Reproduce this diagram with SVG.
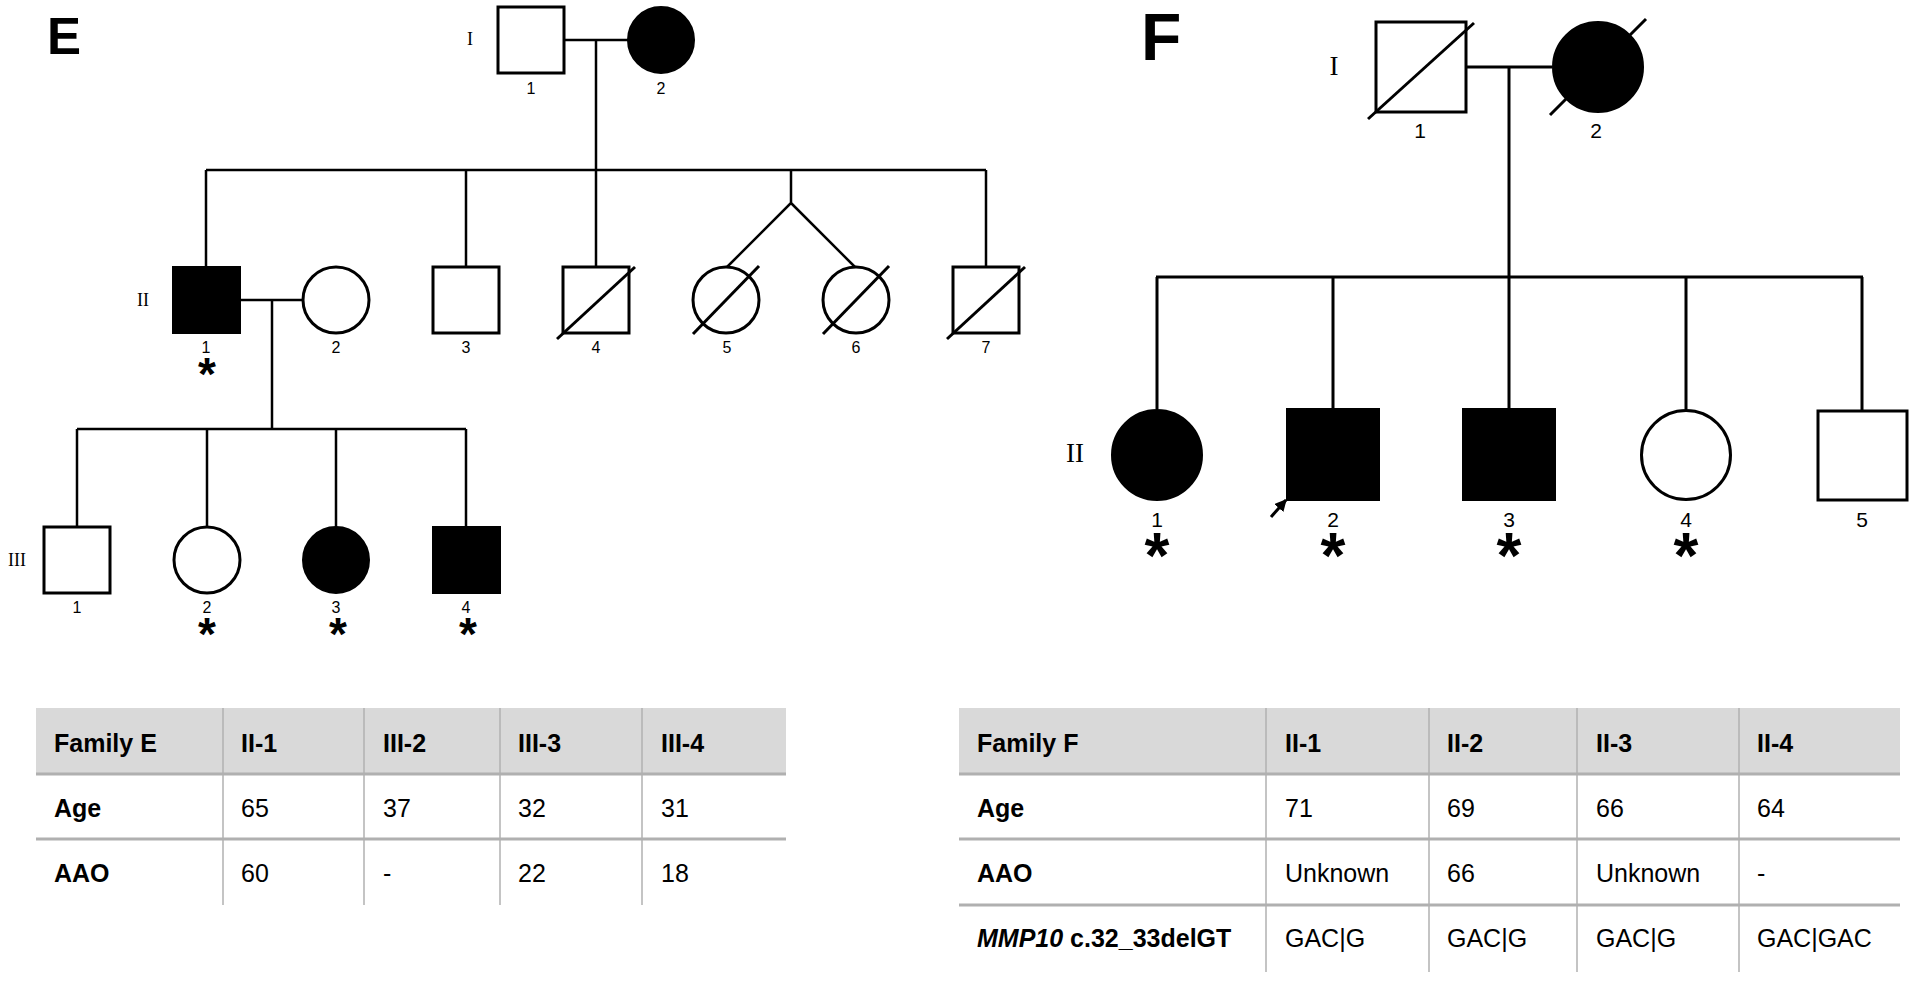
<svg xmlns="http://www.w3.org/2000/svg" width="1920" height="981" viewBox="0 0 1920 981">
<defs>
<style>
.ln{stroke:#000;stroke-width:2.5;fill:none}
.lnF{stroke:#000;stroke-width:3;fill:none}
.open{fill:#fff;stroke:#000;stroke-width:3}
.fill{fill:#000;stroke:#000;stroke-width:2}
.sl{stroke:#000;stroke-width:3;fill:none}
.num{font-family:"Liberation Sans",Arial,sans-serif;font-size:16px;text-anchor:middle}
.numF{font-family:"Liberation Sans",Arial,sans-serif;font-size:21px;text-anchor:middle}
.rom{font-family:"Liberation Serif","Times New Roman",serif;font-size:18px;text-anchor:middle}
.romF{font-family:"Liberation Serif","Times New Roman",serif;font-size:27px;text-anchor:middle}
.ast{font-family:"Liberation Sans",Arial,sans-serif;font-weight:bold;font-size:46px;text-anchor:middle}
.astF{font-family:"Liberation Sans",Arial,sans-serif;font-weight:bold;font-size:64px;text-anchor:middle}
.ttl{font-family:"Liberation Sans",Arial,sans-serif;font-weight:bold}
.th{font-family:"Liberation Sans",Arial,sans-serif;font-weight:bold;font-size:25px}
.td{font-family:"Liberation Sans",Arial,sans-serif;font-size:25px}
.hdr{fill:#d9d9d9}
.hl{stroke:#b0b0b0;stroke-width:3}
.vl{stroke:#b0b0b0;stroke-width:1.5}
</style>
<marker id="ah" viewBox="0 0 10 10" refX="9" refY="5" markerWidth="4" markerHeight="4" orient="auto">
<path d="M0,0 L10,5 L0,10 z" fill="#000"/>
</marker>
</defs>
<rect width="1920" height="981" fill="#fff"/>

<text class="ttl" x="47" y="54" font-size="51">E</text>
<text class="ttl" x="1141" y="60" font-size="66">F</text>

<!-- Family E generation labels -->
<text class="rom" x="470" y="45">I</text>
<text class="rom" x="143" y="306">II</text>
<text class="rom" x="17" y="566">III</text>

<!-- Family E connectors -->
<g id="connectors-E" class="ln">
<path d="M564,40 H628"/>
<path d="M596,40 V170"/>
<path d="M206,170 H986"/>
<path d="M206,170 V267 M466,170 V267 M596,170 V267 M986,170 V267"/>
<path d="M791,170 V203 L727,267 M791,203 L855,267"/>
<path d="M240,300 H303"/>
<path d="M272,300 V429"/>
<path d="M77,429 H466"/>
<path d="M77,429 V527 M207,429 V527 M336,429 V527 M466,429 V527"/>
</g>

<g id="E-I-1"><rect class="open" x="498" y="7" width="66" height="66"/><text class="num" x="531" y="94">1</text></g>
<g id="E-I-2"><circle class="fill" cx="661" cy="40" r="33"/><text class="num" x="661" y="94">2</text></g>

<g id="E-II-1"><rect class="fill" x="173" y="267" width="67" height="66"/><text class="num" x="206" y="353">1</text><text class="ast" x="207" y="390">*</text></g>
<g id="E-II-2"><circle class="open" cx="336" cy="300" r="33"/><text class="num" x="336" y="353">2</text></g>
<g id="E-II-3"><rect class="open" x="433" y="267" width="66" height="66"/><text class="num" x="466" y="353">3</text></g>
<g id="E-II-4"><rect class="open" x="563" y="267" width="66" height="66"/><path class="sl" d="M557,339 L635,267"/><text class="num" x="596" y="353">4</text></g>
<g id="E-II-5"><circle class="open" cx="726" cy="300" r="33"/><path class="sl" d="M693,334 L759,266"/><text class="num" x="727" y="353">5</text></g>
<g id="E-II-6"><circle class="open" cx="856" cy="300" r="33"/><path class="sl" d="M823,334 L889,266"/><text class="num" x="856" y="353">6</text></g>
<g id="E-II-7"><rect class="open" x="953" y="267" width="66" height="66"/><path class="sl" d="M947,339 L1025,267"/><text class="num" x="986" y="353">7</text></g>

<g id="E-III-1"><rect class="open" x="44" y="527" width="66" height="66"/><text class="num" x="77" y="613">1</text></g>
<g id="E-III-2"><circle class="open" cx="207" cy="560" r="33"/><text class="num" x="207" y="613">2</text><text class="ast" x="207" y="650">*</text></g>
<g id="E-III-3"><circle class="fill" cx="336" cy="560" r="33"/><text class="num" x="336" y="613">3</text><text class="ast" x="338" y="650">*</text></g>
<g id="E-III-4"><rect class="fill" x="433" y="527" width="67" height="66"/><text class="num" x="466" y="613">4</text><text class="ast" x="468" y="650">*</text></g>

<!-- Family F generation labels -->
<text class="romF" x="1334" y="75">I</text>
<text class="romF" x="1075" y="462">II</text>

<!-- Family F connectors -->
<g id="connectors-F" class="lnF">
<path d="M1466,67 H1552"/>
<path d="M1509,67 V277"/>
<path d="M1156,277 H1863"/>
<path d="M1157,277 V409 M1333,277 V409 M1509,277 V409 M1686,277 V409 M1862,277 V410"/>
<path d="M1271,517 L1286,500" marker-end="url(#ah)"/>
</g>

<g id="F-I-1"><rect class="open" x="1376" y="22" width="90" height="90"/><path class="sl" d="M1368,119 L1474,23"/><text class="numF" x="1420" y="138">1</text></g>
<g id="F-I-2"><circle class="fill" cx="1598" cy="67" r="45"/><path class="sl" d="M1550,115 L1646,19"/><text class="numF" x="1596" y="138">2</text></g>

<g id="F-II-1"><circle class="fill" cx="1157" cy="455" r="45"/><text class="numF" x="1157" y="527">1</text><text class="astF" x="1157" y="578">*</text></g>
<g id="F-II-2"><rect class="fill" x="1287" y="409" width="92" height="91"/><text class="numF" x="1333" y="527">2</text><text class="astF" x="1333" y="578">*</text></g>
<g id="F-II-3"><rect class="fill" x="1463" y="409" width="92" height="91"/><text class="numF" x="1509" y="527">3</text><text class="astF" x="1509" y="578">*</text></g>
<g id="F-II-4"><circle class="open" cx="1686" cy="455" r="44.5"/><text class="numF" x="1686" y="527">4</text><text class="astF" x="1686" y="578">*</text></g>
<g id="F-II-5"><rect class="open" x="1818" y="411" width="89" height="89"/><text class="numF" x="1862" y="527">5</text></g>

<!-- Table E -->
<g id="table-E">
<rect class="hdr" x="36" y="708" width="750" height="66"/>
<line class="hl" x1="36" y1="774" x2="786" y2="774"/>
<line class="hl" x1="36" y1="839" x2="786" y2="839"/>
<line class="vl" x1="223" y1="708" x2="223" y2="905"/>
<line class="vl" x1="364" y1="708" x2="364" y2="905"/>
<line class="vl" x1="500" y1="708" x2="500" y2="905"/>
<line class="vl" x1="642" y1="708" x2="642" y2="905"/>
<text class="th" x="54" y="752">Family E</text>
<text class="th" x="241" y="752">II-1</text>
<text class="th" x="383" y="752">III-2</text>
<text class="th" x="518" y="752">III-3</text>
<text class="th" x="661" y="752">III-4</text>
<text class="th" x="54" y="817">Age</text>
<text class="td" x="241" y="817">65</text>
<text class="td" x="383" y="817">37</text>
<text class="td" x="518" y="817">32</text>
<text class="td" x="661" y="817">31</text>
<text class="th" x="54" y="882">AAO</text>
<text class="td" x="241" y="882">60</text>
<text class="td" x="383" y="882">-</text>
<text class="td" x="518" y="882">22</text>
<text class="td" x="661" y="882">18</text>
</g>

<!-- Table F -->
<g id="table-F">
<rect class="hdr" x="959" y="708" width="941" height="66"/>
<line class="hl" x1="959" y1="774" x2="1900" y2="774"/>
<line class="hl" x1="959" y1="839" x2="1900" y2="839"/>
<line class="hl" x1="959" y1="905" x2="1900" y2="905"/>
<line class="vl" x1="1266" y1="708" x2="1266" y2="972"/>
<line class="vl" x1="1429" y1="708" x2="1429" y2="972"/>
<line class="vl" x1="1577" y1="708" x2="1577" y2="972"/>
<line class="vl" x1="1739" y1="708" x2="1739" y2="972"/>
<text class="th" x="977" y="752">Family F</text>
<text class="th" x="1285" y="752">II-1</text>
<text class="th" x="1447" y="752">II-2</text>
<text class="th" x="1596" y="752">II-3</text>
<text class="th" x="1757" y="752">II-4</text>
<text class="th" x="977" y="817">Age</text>
<text class="td" x="1285" y="817">71</text>
<text class="td" x="1447" y="817">69</text>
<text class="td" x="1596" y="817">66</text>
<text class="td" x="1757" y="817">64</text>
<text class="th" x="977" y="882">AAO</text>
<text class="td" x="1285" y="882">Unknown</text>
<text class="td" x="1447" y="882">66</text>
<text class="td" x="1596" y="882">Unknown</text>
<text class="td" x="1757" y="882">-</text>
<text class="th" x="977" y="947"><tspan font-style="italic">MMP10</tspan> c.32_33delGT</text>
<text class="td" x="1285" y="947">GAC|G</text>
<text class="td" x="1447" y="947">GAC|G</text>
<text class="td" x="1596" y="947">GAC|G</text>
<text class="td" x="1757" y="947">GAC|GAC</text>
</g>
</svg>
